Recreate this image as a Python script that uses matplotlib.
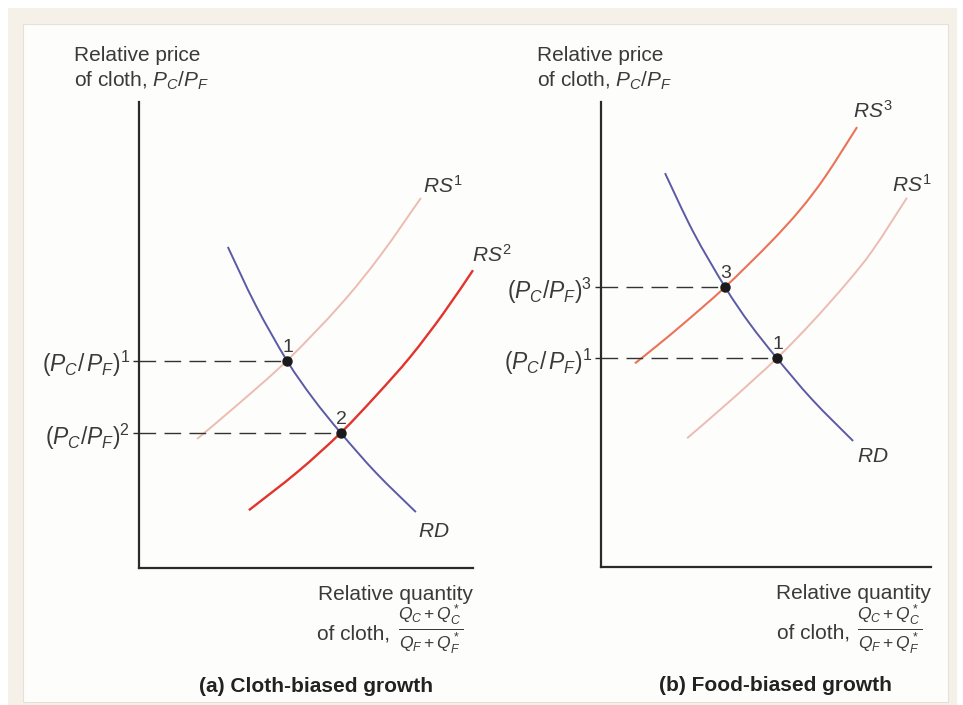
import matplotlib
matplotlib.use("Agg")
import matplotlib.pyplot as plt
import numpy as np
from matplotlib.patches import Rectangle, PathPatch
from matplotlib.path import Path

plt.rcParams['font.family'] = ['Liberation Sans', 'DejaVu Sans']
plt.rcParams['mathtext.fontset'] = 'custom'
plt.rcParams['mathtext.rm'] = 'Liberation Sans'
plt.rcParams['mathtext.it'] = 'Liberation Sans:italic'
plt.rcParams['mathtext.bf'] = 'Liberation Sans:bold'

# Panel (a): cloth-biased growth (axis units 0..10)
rd_a_x = [2.66, 3.50, 4.43, 5.20, 6.04, 7.10, 8.29]
rd_a_y = [6.89, 5.63, 4.45, 3.65, 2.90, 2.04, 1.20]
rs1_a_x = [1.74, 2.96, 4.43, 6.02, 7.22, 8.44]
rs1_a_y = [2.77, 3.51, 4.45, 5.64, 6.70, 7.94]
rs2_a_x = [3.29, 4.76, 6.04, 7.10, 8.11, 9.10, 10.0]
rs2_a_y = [1.24, 2.07, 2.90, 3.70, 4.52, 5.45, 6.39]
eq_a_x = [4.43, 6.04]
eq_a_y = [4.45, 2.90]
eq_a_names = ['1', '2']
price_a_labels = [r'$(P_C/\,P_F)^1$', r'$(P_C/P_F)^2$']

# Panel (b): food-biased growth
rd_b_x = [1.94, 2.80, 3.76, 4.50, 5.33, 6.40, 7.64]
rd_b_y = [8.47, 7.20, 6.02, 5.24, 4.49, 3.60, 2.71]
rs3_b_x = [1.03, 1.70, 2.61, 3.76, 5.12, 6.03, 6.79, 7.76]
rs3_b_y = [4.38, 4.76, 5.30, 6.02, 6.97, 7.68, 8.39, 9.46]
rs1_b_x = [2.61, 3.91, 5.33, 6.40, 7.45, 8.24, 9.27]
rs1_b_y = [2.77, 3.57, 4.49, 5.27, 6.11, 6.82, 7.94]
eq_b_x = [3.76, 5.33]
eq_b_y = [6.02, 4.49]
eq_b_names = ['3', '1']
price_b_labels = [r'$(P_C/P_F)^3$', r'$(P_C/\,P_F)^1$']

C_RD = '#5b5aa6'
C_RS1 = '#ecbcb2'
C_RS2 = '#e2332c'
C_RS3 = '#ea7358'
C_TXT = '#3a3a3a'
FS = 15

W, H = 963, 705
fig = plt.figure(figsize=(W / 100, H / 100), dpi=100)
fig.patch.set_facecolor('white')
fig.patches.append(Rectangle((8 / W, 0), 949 / W, 1 - 8 / H, transform=fig.transFigure,
                             facecolor='#f5f1e9', edgecolor='none', zorder=-3))
fig.patches.append(Rectangle((23 / W, 1 - 702 / H), 925 / W, 678 / H, transform=fig.transFigure,
                             facecolor='#fdfdfb', edgecolor='#e6e0d6', lw=0.8, zorder=-2))

ax_a = fig.add_axes([139 / W, 1 - 568 / H, 334 / W, 466 / H])
ax_b = fig.add_axes([601 / W, 1 - 567 / H, 330 / W, 465 / H])


def curve(ax, xs, ys, color, lw):
    # smooth curve through the read points (Catmull-Rom drawn as cubic Bezier path)
    p = np.column_stack([xs, ys])
    ext = np.vstack([p[0], p, p[-1]])
    verts = [p[0]]
    codes = [Path.MOVETO]
    for i in range(len(p) - 1):
        a, b, c, d = ext[i], ext[i + 1], ext[i + 2], ext[i + 3]
        verts += [b + (c - a) / 6, c - (d - b) / 6, c]
        codes += [Path.CURVE4] * 3
    ax.add_patch(PathPatch(Path(verts, codes), fill=False, edgecolor=color, lw=lw,
                           clip_on=False, capstyle='butt'))


def setup(ax, levels, labels):
    ax.set_xlim(0, 10)
    ax.set_ylim(0, 10)
    ax.patch.set_visible(False)
    for s in ['top', 'right']:
        ax.spines[s].set_visible(False)
    for s in ['left', 'bottom']:
        ax.spines[s].set_color('#2a2a2a')
        ax.spines[s].set_linewidth(1.6)
    ax.set_xticks([])
    ax.set_yticks(levels)
    ax.set_yticklabels(labels, fontsize=16.5, color=C_TXT)
    ax.tick_params(axis='y', length=4.5, width=1.0, pad=2, color='#2a2a2a')


def axis_titles(ax, title, frac_x, frac_y):
    ax.text(-0.195, 1.088, 'Relative price', transform=ax.transAxes, fontsize=FS,
            color=C_TXT, ha='left', va='baseline')
    ax.text(-0.195, 1.032, r'of cloth, $P_C/P_F$', transform=ax.transAxes, fontsize=FS,
            color=C_TXT, ha='left', va='baseline')
    ax.text(1.0, -0.068, 'Relative quantity', transform=ax.transAxes, fontsize=FS,
            color=C_TXT, ha='right', va='baseline')
    ax.text(0.533, -0.154, 'of cloth,', transform=ax.transAxes,
            fontsize=FS, color=C_TXT, ha='left', va='baseline')
    ax.text(frac_x, frac_y, r'$\frac{Q_C + Q_C^*}{Q_F + Q_F^*}$', transform=ax.transAxes,
            fontsize=18, color=C_TXT, ha='left', va='center')
    ax.text(0.53, -0.266, title, transform=ax.transAxes, fontsize=FS, fontweight='bold',
            color='#222222', ha='center', va='baseline')


def equilibria(ax, xs, ys, names):
    for x, y, n in zip(xs, ys, names):
        ax.plot([0, x], [y, y], color='#333333', lw=1.0, dashes=(12, 6), zorder=2)
        ax.text(x + 0.03, y + 0.19, n, fontsize=14, color=C_TXT, ha='center', va='baseline')
    ax.plot(xs, ys, 'o', color='#1a1a1a', ms=6.5, zorder=5)


# panel (a)
setup(ax_a, eq_a_y, price_a_labels)
curve(ax_a, rs1_a_x, rs1_a_y, C_RS1, 1.4)
curve(ax_a, rs2_a_x, rs2_a_y, C_RS2, 1.7)
curve(ax_a, rd_a_x, rd_a_y, C_RD, 1.4)
equilibria(ax_a, eq_a_x, eq_a_y, eq_a_names)
ax_a.text(8.50, 8.05, r'$RS^1$', fontsize=FS, color=C_TXT, ha='left', va='baseline')
ax_a.text(9.97, 6.57, r'$RS^2$', fontsize=FS, color=C_TXT, ha='left', va='baseline')
ax_a.text(8.35, 0.67, r'$RD$', fontsize=FS, color=C_TXT, ha='left', va='baseline')
axis_titles(ax_a, '(a) Cloth-biased growth', 0.775, -0.131)

# panel (b)
setup(ax_b, eq_b_y, price_b_labels)
curve(ax_b, rs1_b_x, rs1_b_y, C_RS1, 1.4)
curve(ax_b, rs3_b_x, rs3_b_y, C_RS3, 1.5)
curve(ax_b, rd_b_x, rd_b_y, C_RD, 1.4)
equilibria(ax_b, eq_b_x, eq_b_y, eq_b_names)
ax_b.text(7.64, 9.66, r'$RS^3$', fontsize=FS, color=C_TXT, ha='left', va='baseline')
ax_b.text(8.82, 8.06, r'$RS^1$', fontsize=FS, color=C_TXT, ha='left', va='baseline')
ax_b.text(7.76, 2.26, r'$RD$', fontsize=FS, color=C_TXT, ha='left', va='baseline')
axis_titles(ax_b, '(b) Food-biased growth', 0.776, -0.133)

fig.savefig('out.png', dpi=100)
